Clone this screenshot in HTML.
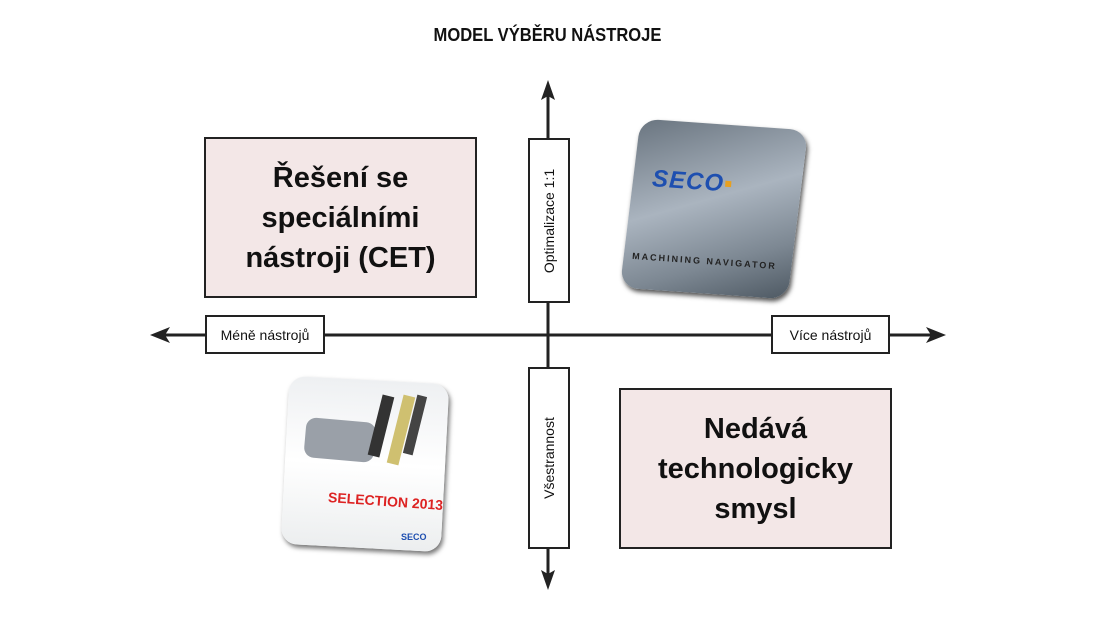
<!DOCTYPE html>
<html><head><meta charset="utf-8"><style>
body{margin:0;width:1095px;height:626px;background:#fff;position:relative;overflow:hidden;font-family:"Liberation Sans",Arial,sans-serif}
.a{position:absolute}
.big{background:#f3e7e7;border:2px solid #222;box-sizing:border-box;display:flex;align-items:center;justify-content:center;text-align:center;font-weight:bold;font-size:29px;line-height:40px;color:#111}
.lb{background:#fff;border:2px solid #222;box-sizing:border-box;display:flex;align-items:center;justify-content:center;font-size:14px;color:#111}
.vt{transform:rotate(-90deg);white-space:nowrap}
</style></head><body>
<div class="a" style="left:0;width:1095px;top:25px;text-align:center;font-weight:bold;font-size:18px;color:#111;transform:scaleX(0.92)">MODEL VÝBĚRU NÁSTROJE</div>
<svg class="a" style="left:0;top:0" width="1095" height="626">
<line x1="160" y1="335" x2="935" y2="335" stroke="#222" stroke-width="3"/>
<line x1="548" y1="95" x2="548" y2="578" stroke="#222" stroke-width="3"/>
<polygon points="150,335 170,327 165,335 170,343" fill="#222"/>
<polygon points="946,335 926,327 931,335 926,343" fill="#222"/>
<polygon points="548,80 541,100 548,96 555,100" fill="#222"/>
<polygon points="548,590 541,570 548,574 555,570" fill="#222"/>
</svg>
<div class="a big" style="left:204px;top:137px;width:273px;height:161px">Řešení se<br>speciálními<br>nástroji (CET)</div>
<div class="a big" style="left:619px;top:388px;width:273px;height:161px">Nedává<br>technologicky<br>smysl</div>
<div class="a lb" style="left:528px;top:138px;width:42px;height:165px"><span class="vt">Optimalizace 1:1</span></div>
<div class="a lb" style="left:528px;top:367px;width:42px;height:182px"><span class="vt">Všestrannost</span></div>
<div class="a lb" style="left:205px;top:315px;width:120px;height:39px">Méně nástrojů</div>
<div class="a lb" style="left:771px;top:315px;width:119px;height:39px">Více nástrojů</div>
<div class="a" style="left:630px;top:124px;width:168px;height:170px;border-radius:18px;transform:rotate(4deg) skewX(-3deg);background:linear-gradient(160deg,#6a7580,#aab4bf 45%,#7d8893 75%,#4e5963);box-shadow:2px 3px 5px #555"></div>
<div class="a" style="left:652px;top:168px;font-weight:900;font-size:24px;color:#1e4fb0;letter-spacing:1px;font-style:italic;transform:rotate(4deg)">SECO<span style="color:#e8a020">▪</span></div>
<div class="a" style="left:632px;top:256px;font-size:9px;color:#222;font-weight:bold;letter-spacing:2px;transform:rotate(4deg)">MACHINING NAVIGATOR</div>
<div class="a" style="left:285px;top:380px;width:160px;height:168px;border-radius:16px;transform:rotate(3deg);background:linear-gradient(180deg,#eef0f2,#fff 50%,#eceeef);box-shadow:2px 3px 5px #777"></div>
<div class="a" style="left:305px;top:420px;width:70px;height:40px;background:#9aa0a8;border-radius:10px;transform:rotate(5deg)"></div>
<div class="a" style="left:375px;top:395px;width:12px;height:62px;background:#333;transform:rotate(14deg)"></div>
<div class="a" style="left:395px;top:395px;width:12px;height:70px;background:#cfc070;transform:rotate(14deg)"></div>
<div class="a" style="left:410px;top:395px;width:10px;height:60px;background:#444;transform:rotate(14deg)"></div>
<div class="a" style="left:328px;top:493px;font-weight:bold;font-size:14px;color:#d22;transform:rotate(4deg)">SELECTION 2013</div>
<div class="a" style="left:401px;top:532px;font-weight:bold;font-size:9px;color:#1e4fb0">SECO</div>
</body></html>
